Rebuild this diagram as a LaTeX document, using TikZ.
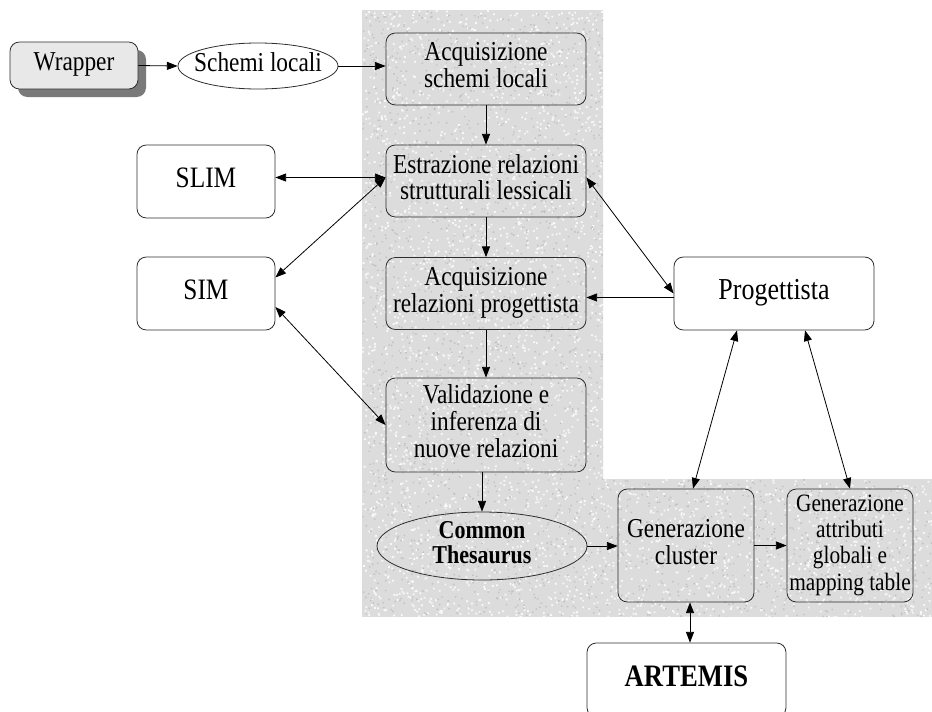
\documentclass[tikz,border=0pt]{standalone}
\usepackage{fontspec}
\setmainfont{Liberation Serif}
\usetikzlibrary{arrows.meta,shapes.geometric,shadows}

\definecolor{granite}{HTML}{DCDCDC}
\definecolor{speckdark}{HTML}{BABABA}
\definecolor{edge}{HTML}{2E2E2E}

% text lines set slightly taller than wide
\newcommand{\tallt}[1]{\scalebox{1}[1.17]{\begin{tabular}{@{}c@{}}#1\end{tabular}}}

\tikzset{
  box/.style={draw=edge, line width=0.6pt, rounded corners=7pt, align=center,
              inner sep=0pt, font=\fontsize{17.5}{17}\selectfont},
  oval/.style={draw=edge, line width=0.6pt, ellipse, inner sep=0pt},
  lbl/.style={align=center, inner sep=0pt},
  arr/.style={line width=0.6pt, -{Triangle[length=8pt,width=6pt]}},
  darr/.style={line width=0.6pt, {Triangle[length=8pt,width=6pt]}-{Triangle[length=8pt,width=6pt]}},
}

\begin{document}
\begin{tikzpicture}[x=0.75pt,y=-0.75pt]
  % page
  \fill[white] (0,0) rectangle (932,711);
  \useasboundingbox (0,0) rectangle (932,711);

  % granite backdrop behind the integration steps
  \begin{scope}
    \clip (362,10) -- (603,10) -- (603,479) -- (932,479) -- (932,617) -- (362,617) -- cycle;
    \fill[granite] (362,10) rectangle (932,617);
    \pgfmathsetseed{42}
    \fill[white, opacity=0.8]
      \foreach \i in {1,...,2600}{ (362+241*rnd, 10+607*rnd) rectangle ++(1.8,1.8) };
    \fill[white, opacity=0.8]
      \foreach \i in {1,...,800}{ (603+329*rnd, 479+138*rnd) rectangle ++(1.8,1.8) };
    \fill[speckdark, opacity=0.8]
      \foreach \i in {1,...,1800}{ (362+241*rnd, 10+607*rnd) rectangle ++(1.4,1.4) };
    \fill[speckdark, opacity=0.8]
      \foreach \i in {1,...,550}{ (603+329*rnd, 479+138*rnd) rectangle ++(1.4,1.4) };
  \end{scope}

  % sources
  \node[box, fill=black!9, minimum width=96pt, minimum height=35.25pt,
        drop shadow={shadow xshift=6pt, shadow yshift=-6pt, fill=black!52, opacity=1}]
        (wrap) at (74,65.5) {\tallt{Wrapper}};
  \node[oval, fill=white, minimum width=120pt, minimum height=34.5pt] (sch) at (258,66) {};
  \node[lbl, font=\fontsize{17.5}{17}\selectfont] (schtext) at (258,66) {\tallt{Schemi locali}};

  % main pipeline
  \node[box, minimum width=150pt, minimum height=54pt] (acq1) at (486,69)
        {\tallt{Acquisizione\\schemi locali}};
  \node[box, minimum width=150pt, minimum height=54pt] (estr) at (486,181)
        {\tallt{Estrazione relazioni\\strutturali lessicali}};
  \node[box, minimum width=150pt, minimum height=54pt] (acq2) at (486,293.5)
        {\tallt{Acquisizione\\relazioni progettista}};
  \node[box, minimum width=150pt, minimum height=70.5pt] (valid) at (486,425)
        {\tallt{Validazione e\\inferenza di\\nuove relazioni}};
  \node[oval, minimum width=157.5pt, minimum height=51pt] (ct) at (482,546) {};
  \node[lbl, font=\fontsize{16.5}{16}\selectfont\bfseries] (cttext) at (482,546)
        {\tallt{Common\\Thesaurus}};
  \node[box, minimum width=102pt, minimum height=84.75pt] (clus) at (686,545.5)
        {\tallt{Generazione\\cluster}};
  \node[box, minimum width=94.5pt, minimum height=84.75pt,
        font=\fontsize{16}{16.8}\selectfont] (attr) at (850,545.5)
        {\tallt{Generazione\\attributi\\globali e\\mapping table}};

  % tools and designer
  \node[box, fill=white, minimum width=103.5pt, minimum height=54.75pt,
        font=\fontsize{19}{19}\selectfont] (slim) at (206,181.5) {\tallt{SLIM}};
  \node[box, fill=white, minimum width=103.5pt, minimum height=54.75pt,
        font=\fontsize{19}{19}\selectfont] (sim) at (206,293.5) {\tallt{SIM}};
  \node[box, fill=white, minimum width=150pt, minimum height=54.75pt,
        font=\fontsize{19.5}{19}\selectfont] (prog) at (774,293.5) {\tallt{Progettista}};
  \node[box, fill=white, minimum width=149.25pt, minimum height=55.5pt,
        font=\fontsize{20}{20}\selectfont\bfseries] (art) at (686.5,680) {\tallt{ARTEMIS}};

  % flow
  \draw[arr] (wrap.east) -- (sch.west);
  \draw[arr] (sch.east) -- (sch.east -| acq1.west);
  \draw[arr] (acq1.south) -- (estr.north);
  \draw[arr] (estr.south) -- (acq2.north);
  \draw[arr] (acq2.south) -- (valid.north);
  \draw[arr] (valid.south -| ct.north) -- (ct.north);
  \draw[arr] (ct.east) -- (ct.east -| clus.west);
  \draw[arr] (clus.east) -- (attr.west);

  % interactions
  \draw[darr] ([yshift=3pt]slim.east) -- ([yshift=3pt]slim.east -| estr.west);
  \draw[darr] (sim.13) -- (estr.178);
  \draw[darr] (sim.-11) -- (valid.west);
  \draw[darr] (estr.2) -- (prog.west);
  \draw[arr] ([yshift=-3pt]prog.west) -- ([yshift=-3pt]prog.west -| acq2.east);
  \draw[darr] ([xshift=-27.75pt]prog.south) -- ([xshift=5.25pt]clus.north);
  \draw[darr] ([xshift=23.25pt]prog.south) -- (attr.north);
  \draw[darr] ([xshift=3pt]clus.south) -- ([xshift=3pt]clus.south |- art.north);
\end{tikzpicture}
\end{document}
